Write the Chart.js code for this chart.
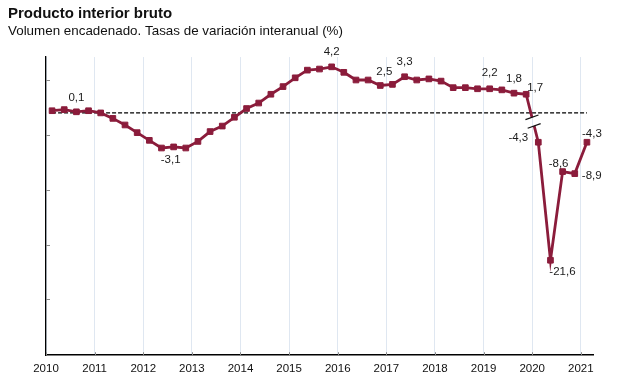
<!DOCTYPE html>
<html>
<head>
<meta charset="utf-8">
<script src="https://cdn.jsdelivr.net/npm/chart.js@4.4.0/dist/chart.umd.min.js"></script>
<style>
  body { margin: 0; background: #fff; }
  #wrap { width: 627px; height: 389px; position: relative; }
</style>
</head>
<body>
<div id="wrap"><canvas id="pibChart"></canvas></div>
<script>
// trimestres 2010T1 - 2021T1
var quarters = [
  "2010T1", "2010T2", "2010T3", "2010T4", "2011T1", "2011T2", "2011T3", "2011T4",
  "2012T1", "2012T2", "2012T3", "2012T4", "2013T1", "2013T2", "2013T3", "2013T4",
  "2014T1", "2014T2", "2014T3", "2014T4", "2015T1", "2015T2", "2015T3", "2015T4",
  "2016T1", "2016T2", "2016T3", "2016T4", "2017T1", "2017T2", "2017T3", "2017T4",
  "2018T1", "2018T2", "2018T3", "2018T4", "2019T1", "2019T2", "2019T3", "2019T4",
  "2020T1", "2020T2", "2020T3", "2020T4", "2021T1"
];

// tasa interanual hasta 2019T4 (escala normal)
var pibAntes = [
  0.2, 0.3, 0.1, 0.2, 0.0, -0.5, -1.1, -1.8,
  -2.5, -3.2, -3.1, -3.2, -2.6, -1.7, -1.2, -0.4,
  0.4, 0.9, 1.7, 2.4, 3.2, 3.9, 4.0, 4.2,
  3.7, 3.0, 3.0, 2.5, 2.6, 3.3, 3.0, 3.1,
  2.9, 2.3, 2.3, 2.2, 2.2, 2.1, 1.8, 1.7
];

// desde 2020T1 (escala reducida, eje cortado)
var pibCovid = [-4.3, -21.6, -8.6, -8.9, -4.3];

var yearLabels = ["2010", "2011", "2012", "2013", "2014", "2015", "2016", "2017", "2018", "2019", "2020", "2021"];
var yTicks = [3, -2, -7, -12, -17];

var lineColor = "#8b1c3b";
var fontFamily = "'Liberation Sans', Arial, sans-serif";

// posicion de cada trimestre en el eje x (centro del trimestre)
function qx(label) {
  var year = parseInt(label.slice(0, 4), 10);
  var q = parseInt(label.slice(5), 10);
  return year + (q - 0.5) / 4;
}

var nAntes = pibAntes.length;
var dataAntes = pibAntes.map(function (v, i) { return { x: qx(quarters[i]), y: v }; });
var dataCovid = pibCovid.map(function (v, i) { return { x: qx(quarters[nAntes + i]), y: v }; });
var dataCero = quarters.map(function (q) { return { x: qx(q), y: 0 }; });

// etiquetas de valor: [dataset, indice, dx, dy]
var valueLabels = [
  [0, 2, 0, -14], [0, 10, -3, 13], [0, 23, 0, -15], [0, 27, 4, -14],
  [0, 29, 0, -15], [0, 36, 0, -16], [0, 38, 0, -14], [0, 39, 9, -6],
  [1, 0, -20, -4], [1, 1, 12, 12], [1, 2, -4, -8], [1, 3, 17, 2], [1, 4, 5, -8]
];

var yMin = -22.09, yMax = 5.09;
var breakScale = 0.622; // relacion de escala 2020 / antes

var extrasPlugin = {
  id: "extras",
  afterDatasetsDraw: function (chart) {
    var ctx = chart.ctx;
    var area = chart.chartArea;
    var xs = chart.scales.x, ys = chart.scales.y;

    // marcas de eje interiores
    ctx.save();
    ctx.strokeStyle = "#8a8a8a";
    ctx.lineWidth = 1;
    yTicks.forEach(function (t) {
      var py = Math.round(ys.getPixelForValue(t)) + 0.5;
      ctx.beginPath();
      ctx.moveTo(area.left, py);
      ctx.lineTo(area.left + 4, py);
      ctx.stroke();
    });
    yearLabels.forEach(function (y) {
      var px = Math.round(xs.getPixelForValue(+y)) + 0.5;
      ctx.beginPath();
      ctx.moveTo(px, area.bottom);
      ctx.lineTo(px, area.bottom - 3);
      ctx.stroke();
    });
    ctx.restore();

    // tramo de union con corte de eje
    var m0 = chart.getDatasetMeta(0).data;
    var m1 = chart.getDatasetMeta(1).data;
    var p0 = m0[m0.length - 1], p1 = m1[0];
    var dx = p1.x - p0.x, dy = p1.y - p0.y;
    var ta = 0.48, tb = 0.66;
    var a = { x: p0.x + dx * ta, y: p0.y + dy * ta };
    var b = { x: p0.x + dx * tb, y: p0.y + dy * tb };
    ctx.save();
    ctx.strokeStyle = lineColor;
    ctx.lineWidth = 2.8;
    ctx.lineCap = "butt";
    ctx.beginPath();
    ctx.moveTo(p0.x, p0.y); ctx.lineTo(a.x, a.y);
    ctx.moveTo(b.x, b.y); ctx.lineTo(p1.x, p1.y);
    ctx.stroke();
    ctx.strokeStyle = "#111";
    ctx.lineWidth = 1.2;
    [a, b].forEach(function (c) {
      ctx.beginPath();
      ctx.moveTo(c.x - 6.5, c.y + 2.3);
      ctx.lineTo(c.x + 6.5, c.y - 2.3);
      ctx.stroke();
    });
    ctx.restore();

    // etiquetas de valor
    ctx.save();
    ctx.fillStyle = "#1a1a1a";
    ctx.font = "11.5px " + fontFamily;
    ctx.textAlign = "center";
    ctx.textBaseline = "middle";
    var series = [pibAntes, pibCovid];
    valueLabels.forEach(function (l) {
      var pt = chart.getDatasetMeta(l[0]).data[l[1]];
      var txt = series[l[0]][l[1]].toFixed(1).replace(".", ",");
      ctx.fillText(txt, pt.x + l[2], pt.y + l[3]);
    });
    ctx.restore();
  }
};

var ctx = document.getElementById("pibChart").getContext("2d");
var chart = new Chart(ctx, {
  type: "line",
  data: {
    datasets: [
      {
        data: dataAntes,
        yAxisID: "y",
        borderColor: lineColor,
        backgroundColor: lineColor,
        borderWidth: 2.8,
        pointStyle: "rect",
        pointRadius: 4,
        pointBorderWidth: 1,
        tension: 0,
        order: 1
      },
      {
        data: dataCovid,
        yAxisID: "y2",
        borderColor: lineColor,
        backgroundColor: lineColor,
        borderWidth: 2.8,
        pointStyle: "rect",
        pointRadius: 4,
        pointBorderWidth: 1,
        tension: 0,
        order: 1
      },
      {
        data: dataCero,
        yAxisID: "y",
        borderColor: "#000",
        borderWidth: 1.2,
        borderDash: [4, 2],
        pointRadius: 0,
        order: 2
      }
    ]
  },
  options: {
    responsive: true,
    maintainAspectRatio: false,
    animation: false,
    devicePixelRatio: 1,
    layout: {
      padding: { left: 8, right: 34, top: 0, bottom: 6 }
    },
    plugins: {
      legend: { display: false },
      tooltip: { enabled: false },
      title: {
        display: true,
        text: "Producto interior bruto",
        align: "start",
        color: "#111",
        font: { family: fontFamily, size: 15, weight: "bold" },
        padding: { top: 5, bottom: 0 }
      },
      subtitle: {
        display: true,
        text: "Volumen encadenado. Tasas de variación interanual (%)",
        align: "start",
        color: "#111",
        font: { family: fontFamily, size: 13.4 },
        padding: { top: 0, bottom: 18 }
      }
    },
    scales: {
      x: {
        type: "linear",
        min: 2010,
        max: 2021.25,
        afterBuildTicks: function (scale) {
          scale.ticks = yearLabels.map(function (y) { return { value: +y }; });
        },
        ticks: {
          color: "#111",
          font: { family: fontFamily, size: 11.5 },
          padding: 7,
          maxRotation: 0,
          autoSkip: false,
          callback: function (v) { return yearLabels[Math.round(v) - 2010]; }
        },
        grid: { color: "#dfe7f1", lineWidth: 1, drawTicks: false },
        border: { color: "#000", width: 1.6 }
      },
      y: {
        position: "left",
        min: yMin,
        max: yMax,
        afterFit: function (scale) { scale.width = 38; },
        ticks: { display: false },
        grid: { display: false, drawTicks: false },
        border: { color: "#000", width: 1.3 }
      },
      y2: {
        display: false,
        min: yMin / breakScale,
        max: yMax / breakScale
      }
    }
  },
  plugins: [extrasPlugin]
});
</script>
</body>
</html>
